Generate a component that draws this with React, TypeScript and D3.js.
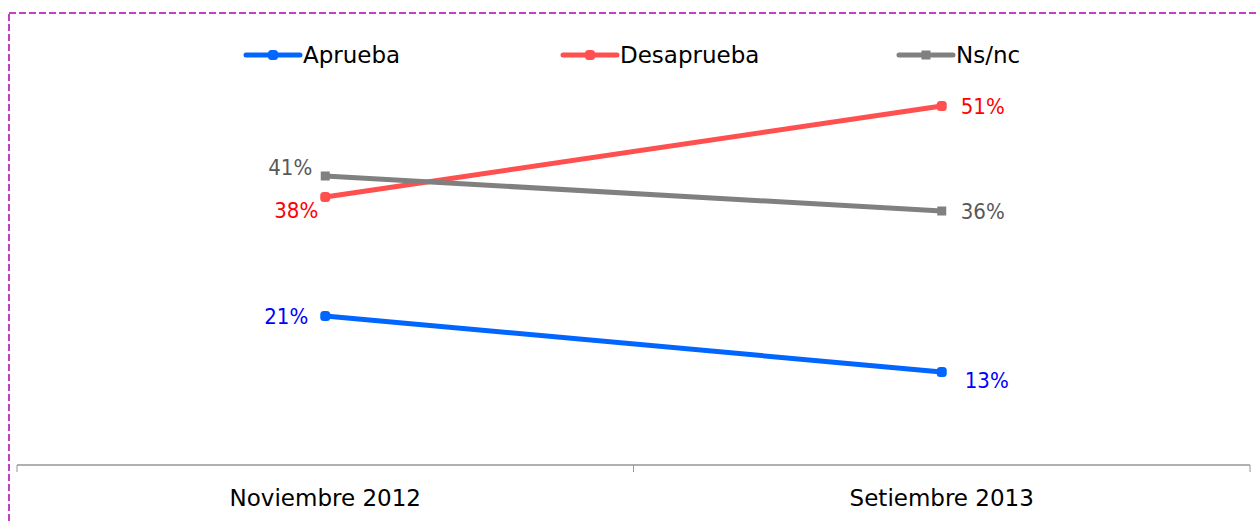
import { useEffect, useRef } from "react";
import * as d3 from "d3";

const categories = ["Noviembre 2012", "Setiembre 2013"];
const seriesNames = ["Aprueba", "Desaprueba", "Ns/nc"];
const aprueba = [21, 13];
const desaprueba = [38, 51];
const nsnc = [41, 36];

export default function App() {
  const svgRef = useRef<SVGSVGElement | null>(null);

  useEffect(() => {
    if (!svgRef.current) return;
    const width = 1256;
    const height = 523;
    const svg = d3.select(svgRef.current);
    svg.selectAll("*").remove();
    svg.attr("width", width).attr("height", height);

    const font = "Tahoma, 'DejaVu Sans', Verdana, sans-serif";
    const labelFont = "'DejaVu Sans Condensed', 'DejaVu Sans', sans-serif";

    svg.append("rect")
      .attr("x", 9).attr("y", 13)
      .attr("width", width + 20).attr("height", height + 20)
      .attr("fill", "none")
      .attr("stroke", "#b000b0")
      .attr("stroke-width", 1.5)
      .attr("stroke-dasharray", "7,3");

    const left = 17, right = 1250;
    const x = d3.scaleBand<string>().domain(categories).range([left, right]);
    const y = d3.scaleLinear().domain([0, 60]).range([463, 43]);
    const cx = (c: string) => (x(c) ?? 0) + x.bandwidth() / 2;

    const axis = svg.append("g").attr("transform", "translate(0,465)");
    axis.append("line").attr("x1", left).attr("x2", right).attr("stroke", "#969696").attr("stroke-width", 1.5);
    const ticks = [left, ...categories.map(c => (x(c) ?? 0) + x.bandwidth())];
    axis.selectAll("line.tick").data(ticks).join("line")
      .attr("class", "tick")
      .attr("x1", d => d).attr("x2", d => d).attr("y1", 0).attr("y2", 7)
      .attr("stroke", "#969696").attr("stroke-width", 1);
    axis.selectAll("text").data(categories).join("text")
      .attr("x", d => cx(d)).attr("y", 41)
      .attr("text-anchor", "middle")
      .attr("font-family", font).attr("font-size", 23)
      .attr("fill", "#000")
      .text(d => d);

    const series = [
      { name: seriesNames[0], values: aprueba, line: "#0066ff", label: "#0000ff", marker: "circle" },
      { name: seriesNames[1], values: desaprueba, line: "#ff4f4f", label: "#ff0000", marker: "circle" },
      { name: seriesNames[2], values: nsnc, line: "#808080", label: "#595959", marker: "square" },
    ];

    const line = d3.line<number>().x((_, i) => cx(categories[i])).y(d => y(d));

    const drawMarker = (g: d3.Selection<SVGGElement, unknown, null, undefined>, px: number, py: number, color: string, kind: string) => {
      if (kind === "circle") {
        g.append("rect").attr("x", px - 5).attr("y", py - 5).attr("width", 10).attr("height", 10)
          .attr("rx", 3.5).attr("fill", color);
      } else {
        g.append("rect").attr("x", px - 4.5).attr("y", py - 4.5).attr("width", 9).attr("height", 9).attr("fill", color);
      }
    };

    // label offsets: [dx, dy, anchor] per point
    const labelPos: Record<string, [number, number, string][]> = {
      Aprueba: [[-17, 8, "end"], [23, 16, "start"]],
      Desaprueba: [[-7, 21, "end"], [19, 8, "start"]],
      "Ns/nc": [[-13, -1, "end"], [19, 8, "start"]],
    };

    series.forEach(s => {
      const g = svg.append("g");
      g.append("path").datum(s.values).attr("d", line)
        .attr("fill", "none").attr("stroke", s.line).attr("stroke-width", 5);
      s.values.forEach((v, i) => {
        const px = cx(categories[i]);
        const py = y(v);
        drawMarker(g, px, py, s.line, s.marker);
        const [dx, dy, anchor] = labelPos[s.name][i];
        g.append("text")
          .attr("x", px + dx).attr("y", py + dy)
          .attr("text-anchor", anchor)
          .attr("font-family", labelFont).attr("font-size", 22)
          .attr("fill", s.label)
          .text(`${v}%`);
      });
    });

    const legendX = [246, 563, 899];
    const legend = svg.append("g");
    series.forEach((s, i) => {
      const lx = legendX[i];
      const ly = 55;
      legend.append("line").attr("x1", lx).attr("x2", lx + 54).attr("y1", ly).attr("y2", ly)
        .attr("stroke", s.line).attr("stroke-width", 5).attr("stroke-linecap", "round");
      drawMarker(legend as any, lx + 27, ly, s.line, s.marker);
      legend.append("text")
        .attr("x", lx + 57).attr("y", ly + 8)
        .attr("font-family", font).attr("font-size", 23)
        .attr("fill", "#000")
        .text(s.name);
    });
  }, []);

  return <svg ref={svgRef} style={{ position: "absolute", left: 0, top: 0 }} />;
}
